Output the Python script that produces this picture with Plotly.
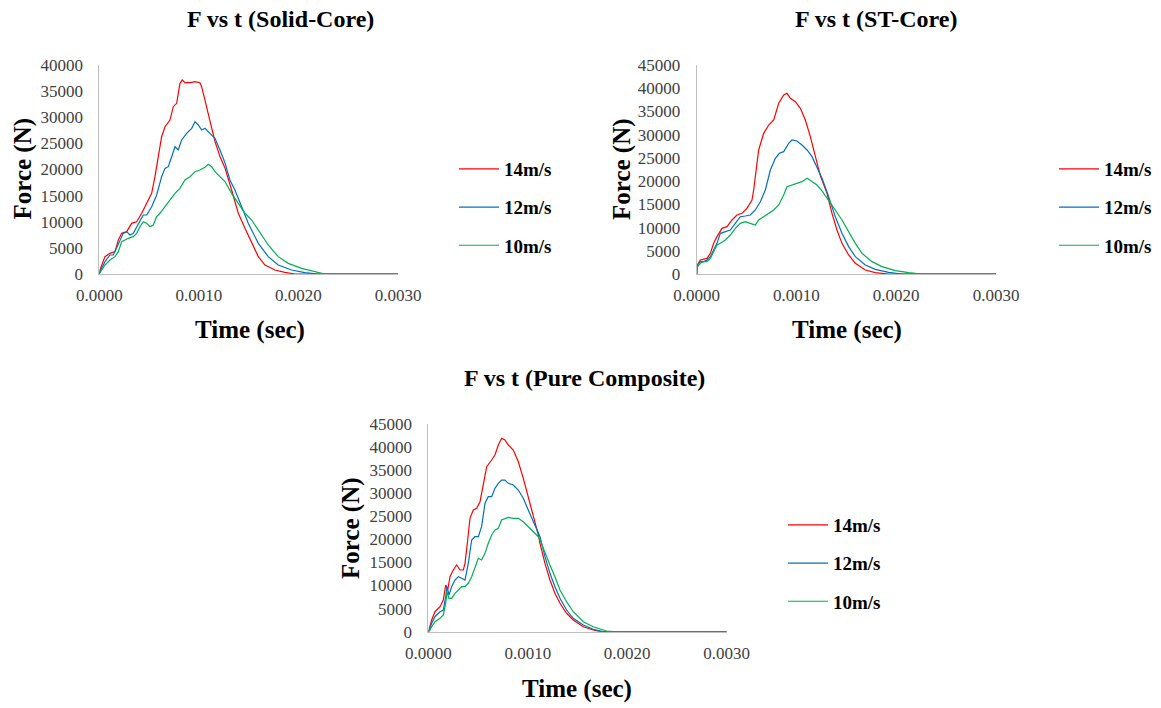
import plotly.graph_objects as go

# ---------------- data (time in s, force in N) ----------------
# Chart 1: Solid-Core
solid_t_14 = [0, 0.000007, 0.000057, 0.000107, 0.000158, 0.000191, 0.000225, 0.000275, 0.000325, 0.000375,
              0.000426, 0.000476, 0.000526, 0.000559, 0.000592, 0.000626, 0.00066, 0.00071, 0.000743, 0.000777,
              0.00081, 0.000833, 0.00086, 0.000911, 0.000961, 0.001011, 0.001028, 0.001061, 0.001111, 0.001162,
              0.001212, 0.001262, 0.001329, 0.001396, 0.001463, 0.00153, 0.001597, 0.001664, 0.001764, 0.001864,
              0.001965, 0.003]
solid_f_14 = [0, 770, 3320, 3960, 4280, 6510, 7780, 8100, 9700, 10010,
              11620, 13530, 15440, 18620, 22450, 26280, 28190, 29470, 32020, 32670,
              36500, 37130, 36620, 36620, 36800, 36620, 35850, 33300, 28840, 25320,
              22500, 20300, 16080, 11620, 8740, 5870, 3320, 1720, 770, 320,
              0, 0]
solid_t_12 = [0, 0.000007, 0.000057, 0.000107, 0.000141, 0.000174, 0.000208, 0.000241, 0.000275, 0.000308,
              0.000341, 0.000392, 0.000442, 0.000476, 0.000526, 0.000576, 0.000626, 0.00066, 0.000693, 0.000727,
              0.00076, 0.000793, 0.000827, 0.000877, 0.000928, 0.000961, 0.000994, 0.001028, 0.001061, 0.001111,
              0.001162, 0.001212, 0.001262, 0.001312, 0.001362, 0.00143, 0.001496, 0.001597, 0.001697, 0.001797,
              0.001932, 0.002065, 0.0022, 0.003]
solid_f_12 = [0, 450, 2360, 3640, 3640, 4920, 6510, 7780, 8100, 7460,
              7780, 9700, 11290, 11290, 12880, 15120, 18620, 20220, 20540, 22450,
              24360, 23730, 25650, 26920, 27880, 29150, 28520, 27560, 27880, 26920,
              25970, 23730, 21300, 18000, 16080, 12880, 9700, 5870, 3320, 1720,
              770, 250, 0, 0]
solid_t_10 = [0, 0.000007, 0.000057, 0.000107, 0.000158, 0.000191, 0.000225, 0.000258, 0.000291, 0.000341,
              0.000375, 0.000409, 0.000442, 0.000476, 0.000509, 0.000542, 0.000576, 0.000609, 0.00066, 0.00071,
              0.00076, 0.00081, 0.00086, 0.000911, 0.000961, 0.001011, 0.001061, 0.001094, 0.001128, 0.001162,
              0.001212, 0.001262, 0.001329, 0.001396, 0.001463, 0.00153, 0.001597, 0.001697, 0.001797, 0.001898,
              0.002032, 0.002166, 0.002266, 0.003]
solid_f_10 = [0, 250, 1720, 2680, 3320, 4280, 6190, 6510, 6830, 7150,
              7780, 9060, 10010, 9700, 9060, 9380, 10970, 11620, 12880, 14160,
              15440, 16400, 17990, 18620, 19580, 19900, 20410, 21000, 20540, 19580,
              18620, 17700, 15440, 13530, 11620, 10330, 8420, 5550, 3320, 2040,
              1080, 450, 0, 0]

# Chart 2: ST-Core
st_t_14 = [0, 0.000005, 0.000036, 0.00007, 0.000103, 0.000137, 0.00017, 0.000203, 0.000254, 0.000304,
           0.000354, 0.000404, 0.000454, 0.000504, 0.000554, 0.000571, 0.000588, 0.000621, 0.000671, 0.000722,
           0.000772, 0.000822, 0.000872, 0.000905, 0.000939, 0.000989, 0.001039, 0.001089, 0.001139, 0.001189,
           0.001239, 0.001306, 0.001356, 0.001406, 0.001456, 0.001523, 0.00159, 0.00169, 0.00179, 0.001924, 0.003]
st_f_14 = [0, 1800, 3010, 3160, 3370, 4450, 6600, 8040, 9830, 10190,
           11630, 12700, 13070, 14150, 15930, 18090, 20950, 26700, 30290, 32080,
           33160, 36760, 38540, 38900, 37830, 37110, 35680, 33160, 29570, 25260,
           21200, 17380, 13070, 9470, 6600, 4090, 2300, 860, 290, 0, 0]
st_t_12 = [0, 0.000005, 0.000036, 0.00007, 0.000103, 0.000137, 0.00017, 0.000203, 0.000237, 0.000287,
           0.000337, 0.000387, 0.000437, 0.000487, 0.000537, 0.000588, 0.000638, 0.000688, 0.000738, 0.000788,
           0.000828, 0.000872, 0.000922, 0.000955, 0.001005, 0.001055, 0.001106, 0.001156, 0.001206, 0.001256,
           0.001323, 0.001389, 0.001456, 0.001523, 0.00159, 0.00169, 0.00179, 0.001924, 0.002058, 0.003]
st_f_12 = [0, 2000, 2660, 2660, 3010, 3730, 5170, 6600, 8760, 9110,
           9470, 10910, 12340, 12490, 12700, 13780, 15570, 18090, 22390, 24910,
           25990, 26340, 28140, 28850, 28640, 27780, 26700, 25260, 23110, 20600,
           16650, 12340, 8760, 5890, 3730, 1940, 1010, 360, 0, 0]
st_t_10 = [0, 0.000005, 0.000036, 0.00007, 0.000103, 0.000137, 0.00017, 0.000203, 0.000237, 0.000287,
           0.000337, 0.000387, 0.000437, 0.000487, 0.000537, 0.000588, 0.000621, 0.000671, 0.000722, 0.000772,
           0.000822, 0.000872, 0.000905, 0.000955, 0.001005, 0.001055, 0.001106, 0.001156, 0.001206, 0.001256,
           0.001323, 0.001389, 0.001456, 0.001523, 0.00159, 0.001657, 0.001757, 0.001857, 0.001991, 0.002125,
           0.002258, 0.003]
st_f_10 = [0, 1500, 2300, 2660, 2660, 3370, 4810, 6240, 6600, 7320,
           8400, 9830, 10910, 11270, 10910, 10550, 11630, 12340, 13070, 13780,
           14860, 17010, 18800, 19160, 19530, 19880, 20610, 19880, 19160, 17900,
           15930, 13780, 11630, 9110, 6600, 4450, 2660, 1580, 720, 290,
           0, 0]

# Chart 3: Pure Composite
pc_t_14 = [0, 0.000007, 0.000034, 0.000067, 0.000118, 0.000151, 0.000175, 0.000195, 0.000218, 0.000251,
           0.000285, 0.000319, 0.000352, 0.000369, 0.000396, 0.000419, 0.000452, 0.000486, 0.00052, 0.000553,
           0.000587, 0.000637, 0.00067, 0.000704, 0.000737, 0.000771, 0.000804, 0.000854, 0.000905, 0.000955,
           0.001005, 0.001055, 0.001106, 0.001123, 0.001173, 0.001223, 0.001273, 0.001324, 0.00139, 0.001457,
           0.001558, 0.001658, 0.001726, 0.003]
pc_f_14 = [0, 370, 2530, 4330, 5420, 6870, 10120, 9030, 11920, 13370,
           14450, 13370, 13370, 14820, 19870, 24570, 26360, 26730, 28160, 31780,
           35750, 37200, 38280, 40450, 41900, 41530, 40450, 39370, 36830, 33230,
           29250, 25280, 21000, 19150, 14820, 11200, 8320, 6150, 3990, 2530,
           1080, 370, 0, 0]
pc_t_12 = [0, 0.000007, 0.000034, 0.000067, 0.000118, 0.000151, 0.000175, 0.000188, 0.000208, 0.000235,
           0.000268, 0.000302, 0.000335, 0.000369, 0.000402, 0.000436, 0.000469, 0.000503, 0.000536, 0.00057,
           0.000603, 0.000637, 0.00067, 0.000704, 0.000737, 0.000771, 0.000804, 0.000854, 0.000905, 0.000955,
           0.001005, 0.001055, 0.001106, 0.001123, 0.001173, 0.001223, 0.001273, 0.001324, 0.00139, 0.001457,
           0.001558, 0.001658, 0.001759, 0.003]
pc_f_12 = [0, 150, 1820, 3250, 4330, 4700, 7580, 9750, 7950, 9750,
           11200, 11920, 11570, 11200, 14820, 19870, 20580, 20580, 22750, 27820,
           29250, 29250, 31070, 32150, 32860, 32860, 32150, 31780, 30700, 28900,
           26360, 23830, 21500, 20580, 16250, 12650, 9750, 7240, 4700, 2900,
           1450, 520, 0, 0]
pc_t_10 = [0, 0.000007, 0.000034, 0.000067, 0.000118, 0.000151, 0.000175, 0.000188, 0.000208, 0.000235,
           0.000268, 0.000302, 0.000335, 0.000369, 0.000402, 0.000436, 0.000469, 0.000503, 0.000536, 0.00057,
           0.000603, 0.000637, 0.00067, 0.000704, 0.000737, 0.000771, 0.000804, 0.000854, 0.000905, 0.000955,
           0.001005, 0.001055, 0.001106, 0.001123, 0.001173, 0.001223, 0.001273, 0.001324, 0.00139, 0.001457,
           0.001558, 0.001658, 0.001793, 0.00186, 0.003]
pc_f_10 = [0, 0, 1080, 2170, 2900, 3620, 6150, 8670, 7240, 7240,
           8320, 9030, 9750, 9750, 10490, 11920, 14080, 15900, 15530, 16980,
           19150, 20950, 22030, 22400, 24200, 24570, 24780, 24570, 24570, 23830,
           22750, 21660, 20580, 19870, 16980, 14450, 11920, 9030, 6500, 4330,
           2170, 1080, 150, 0, 0]

series_names = ["14m/s", "12m/s", "10m/s"]
chart_titles = ["F vs t (Solid-Core)", "F vs t (ST-Core)", "F vs t (Pure Composite)"]
x_tick_vals = [0, 0.001, 0.002, 0.003]
y_max = [40000, 45000, 45000]

colors = ["#FF0000", "#0070C0", "#00B050"]

W, H = 1161, 708

def px(x):
    return x / W

def py(y):
    return 1 - y / H

charts = [
    dict(data=[(solid_t_14, solid_f_14), (solid_t_12, solid_f_12), (solid_t_10, solid_f_10)],
         xdom=(99.3, 398.0), ydom=(274.0, 65.0), legend="legend",
         title_xy=(280, 19), force_xy=(22.5, 169), time_xy=(250, 330), leg_xy=(454, 150)),
    dict(data=[(st_t_14, st_f_14), (st_t_12, st_f_12), (st_t_10, st_f_10)],
         xdom=(696.7, 996.0), ydom=(274.0, 65.0), legend="legend2",
         title_xy=(876, 19), force_xy=(622, 169), time_xy=(847, 330), leg_xy=(1054, 150)),
    dict(data=[(pc_t_14, pc_f_14), (pc_t_12, pc_f_12), (pc_t_10, pc_f_10)],
         xdom=(428.3, 726.7), ydom=(631.7, 424.0), legend="legend3",
         title_xy=(584, 378), force_xy=(351, 528), time_xy=(577, 689), leg_xy=(783, 506)),
]

SERIF = "Liberation Serif, Times New Roman, serif"

fig = go.Figure()
layout = dict(
    width=W, height=H,
    margin=dict(l=0, r=0, t=0, b=0, pad=0, autoexpand=False),
    paper_bgcolor="white", plot_bgcolor="white",
    showlegend=True,
    annotations=[],
)

for i, ch in enumerate(charts):
    sfx = "" if i == 0 else str(i + 1)
    xa, ya = "x" + sfx, "y" + sfx
    for j, (tt, ff) in enumerate(ch["data"]):
        fig.add_trace(go.Scatter(
            x=tt, y=ff, mode="lines", name=series_names[j],
            line=dict(color=colors[j], width=1.2),
            xaxis=xa, yaxis=ya, legend=ch["legend"],
            legendgroup=f"c{i}s{j}", showlegend=True,
        ))
    layout["xaxis" + sfx] = dict(
        domain=[px(ch["xdom"][0]), px(ch["xdom"][1])], anchor=ya,
        range=[0, 0.003], tickvals=x_tick_vals, tickformat=".4f",
        showline=True, linecolor="#BFBFBF", linewidth=1,
        showgrid=False, zeroline=False, ticks="", automargin=False,
        tickfont=dict(family=SERIF, size=17, color="#404040"),
        ticklabelstandoff=6,
    )
    layout["yaxis" + sfx] = dict(
        domain=[py(ch["ydom"][0]), py(ch["ydom"][1])], anchor=xa,
        range=[0, y_max[i]], dtick=5000, tickformat="d",
        showline=True, linecolor="#BFBFBF", linewidth=1,
        showgrid=False, zeroline=False, ticks="", automargin=False,
        tickfont=dict(family=SERIF, size=17, color="#404040"),
        ticklabelstandoff=12,
    )
    layout[ch["legend"]] = dict(
        x=px(ch["leg_xy"][0]), y=py(ch["leg_xy"][1]), xanchor="left", yanchor="top",
        bgcolor="rgba(0,0,0,0)", borderwidth=0,
        font=dict(family=SERIF, size=19, color="#000000", weight="bold"),
        tracegroupgap=10.5, itemwidth=40,
    )
    layout["annotations"] += [
        dict(text=chart_titles[i], x=px(ch["title_xy"][0]), y=py(ch["title_xy"][1]),
             xref="paper", yref="paper", xanchor="center", yanchor="middle", showarrow=False,
             font=dict(family=SERIF, size=24, color="#000000", weight="bold")),
        dict(text="Force (N)", x=px(ch["force_xy"][0]), y=py(ch["force_xy"][1]),
             xref="paper", yref="paper", xanchor="center", yanchor="middle", showarrow=False,
             textangle=-90, font=dict(family=SERIF, size=25, color="#000000", weight="bold")),
        dict(text="Time (sec)", x=px(ch["time_xy"][0]), y=py(ch["time_xy"][1]),
             xref="paper", yref="paper", xanchor="center", yanchor="middle", showarrow=False,
             font=dict(family=SERIF, size=25, color="#000000", weight="bold")),
    ]

fig.update_layout(**layout)
fig.write_html("out.html")
